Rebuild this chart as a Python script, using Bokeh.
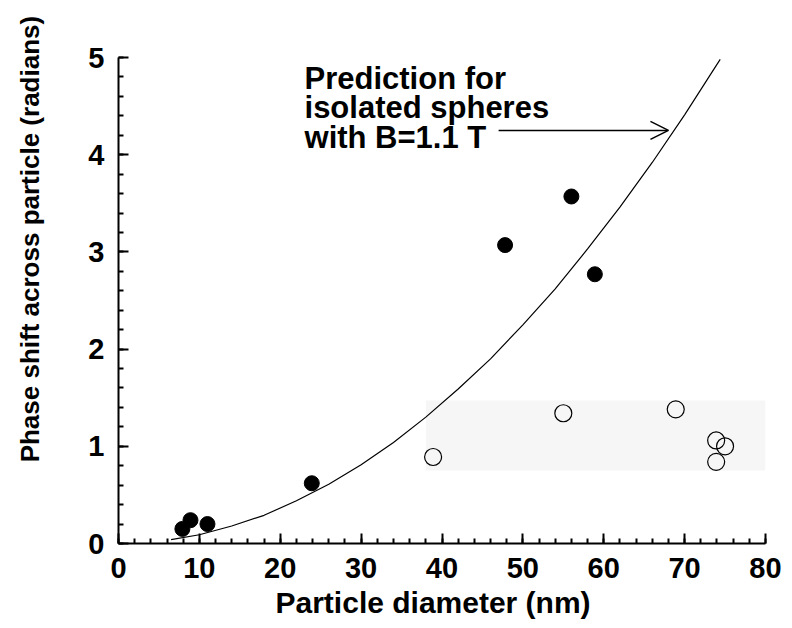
from bokeh.plotting import figure
from bokeh.embed import file_html
from bokeh.resources import INLINE
from bokeh.models import SingleIntervalTicker, Arrow, OpenHead, BoxAnnotation, ColumnDataSource, Title
from bokeh.core.properties import value

# Measured data (closed symbols)
filled_d = [7.9, 8.9, 11.0, 23.9, 47.8, 56.0, 58.9]
filled_phase = [0.15, 0.24, 0.20, 0.62, 3.07, 3.57, 2.77]

# Open symbols
open_d = [38.9, 55.0, 68.9, 73.9, 75.0, 73.9]
open_phase = [0.89, 1.34, 1.38, 1.06, 1.00, 0.84]

# Prediction curve for isolated spheres
pred_d = [6.5, 10, 14, 18, 22, 26, 30, 34, 38, 42, 46, 50, 54, 58, 62, 66, 70, 74, 74.4]
pred_phase = [0.04, 0.09, 0.18, 0.29, 0.44, 0.61, 0.81, 1.04, 1.30, 1.59, 1.90, 2.25,
              2.62, 3.03, 3.46, 3.92, 4.41, 4.93, 4.98]

# Shaded region
shade_d = [38, 80]
shade_phase = [0.75, 1.47]

annot_lines = ["Prediction for", "isolated spheres", "with B=1.1 T"]
annot_x = [23.0, 23.0, 23.0]
annot_y = [4.78, 4.49, 4.18]

x_label = "Particle diameter (nm)"
y_label = "Phase shift across particle (radians)"

p = figure(width=790, height=628, x_range=(0, 80), y_range=(0, 5),
           output_backend="svg", toolbar_location=None,
           min_border_left=118, min_border_right=25, min_border_top=57, min_border_bottom=85)
p.grid.visible = False
p.outline_line_color = None
p.background_fill_color = "white"

box = BoxAnnotation(left=shade_d[0], right=shade_d[1], bottom=shade_phase[0], top=shade_phase[1],
                    fill_color="#f6f6f6", fill_alpha=1.0, line_alpha=0, level="underlay")
p.add_layout(box)

p.line(pred_d, pred_phase, line_color="black", line_width=1.2)

p.scatter(filled_d, filled_phase, size=15, marker="circle", fill_color="black", line_color="black")
p.scatter(open_d, open_phase, size=17, marker="circle", fill_color=None, line_color="black", line_width=1.2)

src = ColumnDataSource(dict(x=annot_x, y=annot_y, t=annot_lines))
p.text(x="x", y="y", text="t", source=src, text_font=value("Liberation Sans"), text_font_style="bold",
       text_font_size="31px", text_color="black", text_baseline="alphabetic", text_align="left")

p.add_layout(Arrow(end=OpenHead(size=18, line_width=1.5, line_color="black"),
                   x_start=47.0, y_start=4.25, x_end=68.0, y_end=4.25,
                   line_width=1.5, line_color="black"))

for ax in (p.xaxis[0], p.yaxis[0]):
    ax.axis_line_width = 2
    ax.axis_line_color = "black"
    ax.major_tick_in = 10
    ax.major_tick_out = 0
    ax.minor_tick_in = 5
    ax.minor_tick_out = 0
    ax.major_tick_line_width = 2
    ax.minor_tick_line_width = 2
    ax.major_label_text_font = "Liberation Sans"
    ax.major_label_text_font_style = "bold"
    ax.major_label_text_font_size = "29px"
    ax.major_label_text_color = "black"

p.xaxis.ticker = SingleIntervalTicker(interval=10, num_minor_ticks=5)
p.yaxis.ticker = SingleIntervalTicker(interval=1, num_minor_ticks=5)
p.xaxis.major_label_standoff = 14
p.yaxis.major_label_standoff = 14

# x label: placed as a title below the axis, starting left of centre like the reference
p.add_layout(Title(text=x_label, align="left", offset=157, standoff=6, text_font="Liberation Sans",
                   text_font_style="bold", text_font_size="30px", text_color="black"), "below")

# y label: axis label, shifted upward with leading no-break spaces
p.yaxis.axis_label = "\u00a0" * 17 + y_label
p.yaxis.axis_label_text_font = "Liberation Sans"
p.yaxis.axis_label_text_font_style = "bold"
p.yaxis.axis_label_text_font_size = "26px"
p.yaxis.axis_label_text_color = "black"
p.yaxis.axis_label_standoff = 40

open("out.html", "w").write(file_html(p, INLINE))
